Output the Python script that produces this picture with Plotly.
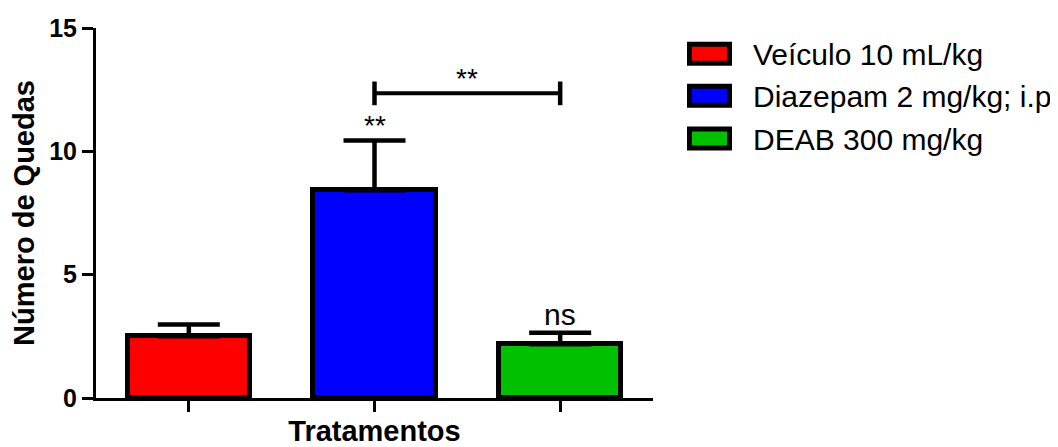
import plotly.graph_objects as go

# ---- data ----
categories = ["Veículo 10 mL/kg", "Diazepam 2 mg/kg; i.p", "DEAB 300 mg/kg"]
means = [2.5, 8.42, 2.18]
sems = [0.48, 2.02, 0.47]
colors = ["#FF0000", "#0000FF", "#00C000"]
labels_above = ["", "**", "ns"]
y_ticks = [0, 5, 10, 15]
bracket_pair = (1, 2)
bracket_y = 12.35
bracket_label = "**"

# page body has an 8px default margin; compensate so the plot lands where intended
OFF = 8
PAGE_W, PAGE_H = 1058, 447
W, H = PAGE_W - OFF, PAGE_H - OFF
PLOT_LEFT, PLOT_RIGHT, PLOT_TOP, PLOT_BOTTOM = 96, 653, 28, 398   # page pixels
L = PLOT_LEFT - OFF
R = PAGE_W - PLOT_RIGHT
T = PLOT_TOP - OFF
B = PAGE_H - PLOT_BOTTOM
FONT = "Arial, Liberation Sans, Helvetica, sans-serif"

xs = list(range(len(categories)))

fig = go.Figure()
fig.add_trace(go.Bar(
    x=xs, y=means, width=0.66,
    marker=dict(color=colors, line=dict(color="black", width=5)),
    error_y=dict(type="data", array=sems, arrayminus=[0] * len(sems), symmetric=False,
                 color="black", thickness=4.5, width=31),
    showlegend=False, hoverinfo="skip",
))

# labels above bars
for i, lab in enumerate(labels_above):
    if not lab:
        continue
    fig.add_annotation(x=xs[i], y=means[i] + sems[i], text=lab, showarrow=False,
                       xref="x", yref="y", yanchor="bottom",
                       yshift=(-3 if lab == "**" else 0),
                       font=dict(family=FONT, size=(28 if lab == "**" else 30), color="black"))

# significance bracket
a, b = bracket_pair
fig.add_shape(type="line", xref="x", yref="y", x0=xs[a], x1=xs[b], y0=bracket_y, y1=bracket_y,
              line=dict(color="black", width=4))
for xi in (xs[a], xs[b]):
    fig.add_shape(type="line", xref="x", yref="y", x0=xi, x1=xi,
                  y0=bracket_y - 0.48, y1=bracket_y + 0.48, line=dict(color="black", width=4.5))
fig.add_annotation(x=(xs[a] + xs[b]) / 2, y=bracket_y, text=bracket_label, showarrow=False,
                   xref="x", yref="y", yanchor="bottom", yshift=-3,
                   font=dict(family=FONT, size=28, color="black"))

# manual legend (paper coords computed from page-pixel layout)
pw = PLOT_RIGHT - PLOT_LEFT
ph = PLOT_BOTTOM - PLOT_TOP
def px2paper_x(px):
    return (px - PLOT_LEFT) / pw
def py2paper_y(py):
    return (PLOT_BOTTOM - py) / ph

leg_x0, leg_x1 = 689.5, 729.5
leg_text_x = 751
leg_rows = [53.7, 95.8, 138.5]
for i, cat in enumerate(categories):
    cy = leg_rows[i]
    fig.add_shape(type="rect", xref="paper", yref="paper",
                  x0=px2paper_x(leg_x0), x1=px2paper_x(leg_x1),
                  y0=py2paper_y(cy + 9.5), y1=py2paper_y(cy - 9.5),
                  fillcolor=colors[i], line=dict(color="black", width=5))
    fig.add_annotation(xref="paper", yref="paper", x=px2paper_x(leg_text_x), y=py2paper_y(cy + 1),
                       xanchor="left", yanchor="middle", text=cat, showarrow=False,
                       font=dict(family=FONT, size=30, color="black"))

fig.update_layout(
    width=W, height=H,
    margin=dict(l=L, r=R, t=T, b=B, autoexpand=False),
    paper_bgcolor="white", plot_bgcolor="white",
    font=dict(family=FONT, color="black"),
    showlegend=False,
    bargap=0,
)
fig.update_xaxes(
    range=[-0.5, 2.5], tickmode="array", tickvals=xs, ticktext=["", "", ""],
    showline=True, linecolor="black", linewidth=3, ticks="outside", ticklen=11,
    tickwidth=3, tickcolor="black", showgrid=False, zeroline=False,
    title=dict(text="<b>Tratamentos</b>", font=dict(family=FONT, size=29), standoff=11),
)
fig.update_yaxes(
    range=[0, 15], tickmode="array", tickvals=y_ticks,
    ticktext=[f"<b>{v}</b>" for v in y_ticks],
    tickfont=dict(family=FONT, size=25),
    showline=True, linecolor="black", linewidth=3, ticks="outside", ticklen=11,
    tickwidth=3, tickcolor="black", showgrid=False, zeroline=False,
    title=dict(text="<b>Número de Quedas</b>", font=dict(family=FONT, size=29), standoff=8),
)

fig.write_html("out.html")
